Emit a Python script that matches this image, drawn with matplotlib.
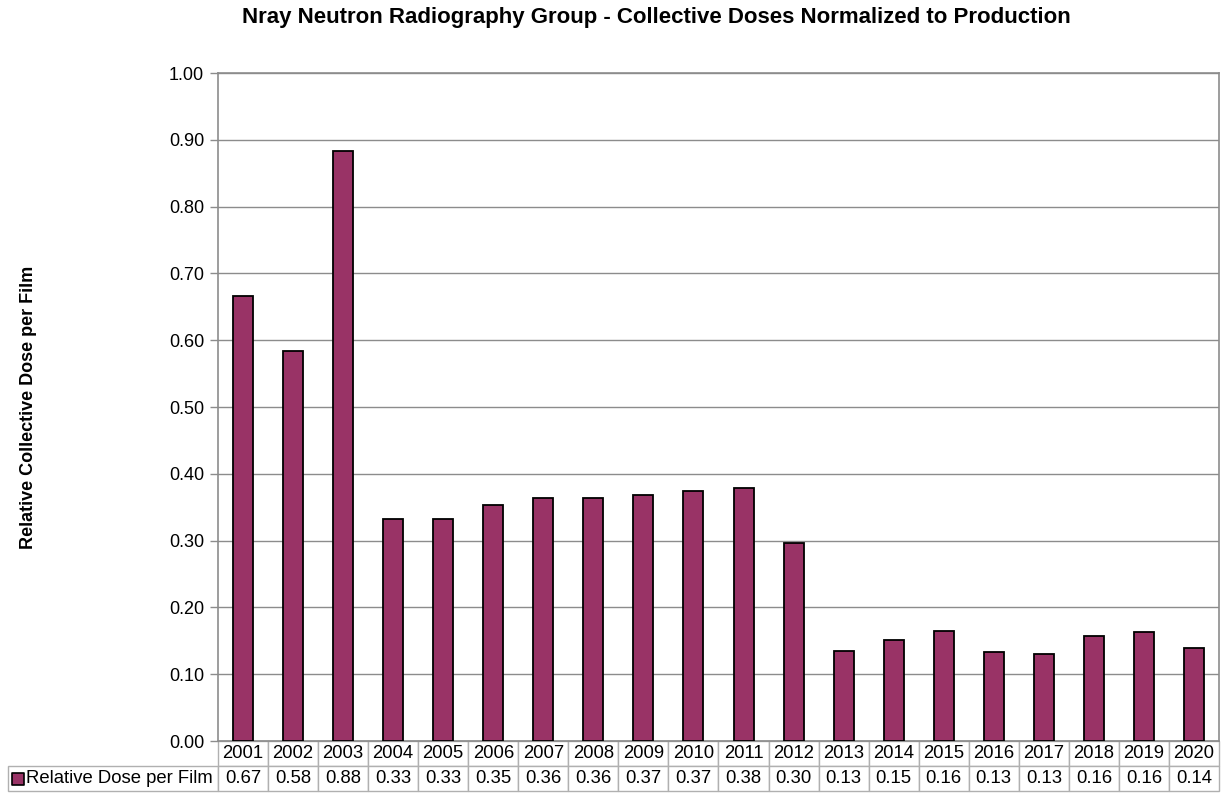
import matplotlib
matplotlib.use("Agg")
import matplotlib.pyplot as plt
import numpy as np
from matplotlib.table import Table

years = [str(y) for y in range(2001, 2021)]
dose = [0.666, 0.584, 0.883, 0.332, 0.333, 0.353, 0.364, 0.364, 0.368, 0.374,
        0.378, 0.297, 0.134, 0.151, 0.164, 0.133, 0.130, 0.157, 0.163, 0.139]
series_name = 'Relative Dose per Film'
bar_color = '#993366'
grid_gray = '#8c8c8c'

plt.rcParams['font.family'] = ['Liberation Sans', 'DejaVu Sans']

fig = plt.figure(figsize=(12.22, 7.93), dpi=100)
W, H = 1222, 793
left, right, top, bottom = 218, 1219, 73, 741
ax = fig.add_axes([left / W, 1 - bottom / H, (right - left) / W, (bottom - top) / H])

x = np.arange(len(years))
ax.bar(x, dose, width=0.4, color=bar_color, edgecolor='black', linewidth=1.3, zorder=3)
ax.set_xlim(-0.5, len(years) - 0.5)
ax.set_ylim(0, 1.0)
ax.set_yticks(np.arange(0, 1.01, 0.1))
ax.set_yticklabels(['%.2f' % v for v in np.arange(0, 1.01, 0.1)], fontsize=13)
ax.yaxis.grid(True, color=grid_gray, linewidth=1.0, zorder=0)
ax.set_xticks([])
ax.tick_params(axis='y', length=6, color=grid_gray, width=1, pad=4)
for s in ax.spines.values():
    s.set_color(grid_gray)
    s.set_linewidth(1.2)

ax.set_ylabel('Relative Collective Dose per Film', fontsize=13, fontweight='bold', labelpad=0)
ax.yaxis.set_label_coords(-(left - 37) / (right - left), 0.5)

fig.text(656 / W, 1 - 18 / H, 'Nray Neutron Radiography Group - Collective Doses Normalized to Production',
         ha='center', va='center', fontsize=16, fontweight='bold')

# data table below the axes
axw = right - left
axh = bottom - top
lab_w = (left - 8) / axw
col_w = 1.0 / len(years)
row_h = 25 / axh
fs = 13.3
tab = Table(ax, bbox=[0, -2 * row_h, 1, 2 * row_h])
for j, yr in enumerate(years):
    c = tab.add_cell(0, j, width=col_w, height=row_h, text=yr, loc='center')
    c.set_edgecolor('#b0b0b0')
    c.get_text().set_fontsize(fs)
    c = tab.add_cell(1, j, width=col_w, height=row_h, text='%.2f' % dose[j], loc='center')
    c.set_edgecolor('#b0b0b0')
    c.get_text().set_fontsize(fs)
c = tab.add_cell(0, -1, width=lab_w, height=row_h, text='')
c.visible_edges = ''
c = tab.add_cell(1, -1, width=lab_w, height=row_h, text='')
c.set_edgecolor('#b0b0b0')
tab.auto_set_font_size(False)
ax.add_table(tab)

# legend key inside the row label cell
ax.scatter([-(left - 18) / axw], [-1.5 * row_h], marker='s', s=85, color=bar_color,
           edgecolor='black', linewidth=1.2, transform=ax.transAxes, clip_on=False, zorder=5)
ax.text(-(left - 26) / axw, -1.5 * row_h, series_name, transform=ax.transAxes,
        ha='left', va='center', fontsize=fs)

fig.savefig('out.png', dpi=100)
